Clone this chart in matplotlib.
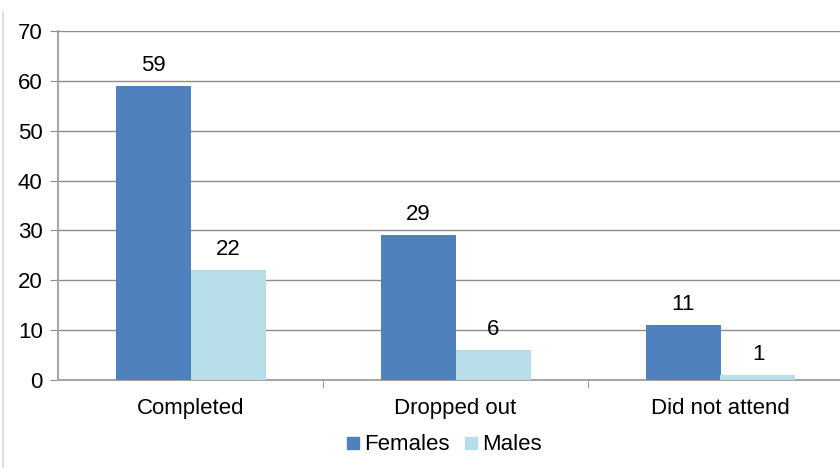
import matplotlib.pyplot as plt
import numpy as np
from matplotlib.lines import Line2D

plt.rcParams['font.family'] = ['Liberation Sans', 'DejaVu Sans']

categories = ["Completed", "Dropped out", "Did not attend"]
females = [59, 29, 11]
males = [22, 6, 1]

fig = plt.figure(figsize=(8.4, 4.68), dpi=100)
# axes run past the right edge, as in the reference crop
ax = fig.add_axes([58 / 840, 1 - 380 / 468, 795 / 840, 349 / 468])

x = np.arange(len(categories))
w = 75 / 265
ax.bar(x - w / 2, females, w, color="#4F81BD", label="Females", zorder=3)
ax.bar(x + w / 2, males, w, color="#B7DEE8", label="Males", zorder=3)

for xi, v in zip(x - w / 2, females):
    ax.text(xi, v + 2.0, str(v), ha="center", va="bottom", fontsize=16)
for xi, v in zip(x + w / 2, males):
    ax.text(xi, v + 2.0, str(v), ha="center", va="bottom", fontsize=16)

ax.set_xlim(-0.5, 2.5)
ax.set_ylim(0, 70)
ax.set_yticks(range(0, 71, 10))
ax.yaxis.grid(True, color="#8c8c8c", linewidth=1)
ax.set_axisbelow(True)

ax.set_xticks(x)
ax.set_xticklabels(categories, fontsize=16)
ax.set_xticks([0.5, 1.5, 2.5], minor=True)
ax.tick_params(axis="x", which="major", length=0, pad=13)
ax.tick_params(axis="x", which="minor", length=6, color="#8c8c8c", direction="out")
ax.tick_params(axis="y", length=6, color="#8c8c8c", labelsize=16, pad=5)

for s in ["top", "right"]:
    ax.spines[s].set_visible(False)
for s in ["left", "bottom"]:
    ax.spines[s].set_color("#a6a6a6")
    ax.spines[s].set_linewidth(1.5)

handles = [Line2D([], [], marker="s", linestyle="", markersize=8, color="#4F81BD"),
           Line2D([], [], marker="s", linestyle="", markersize=8, color="#B7DEE8")]
fig.legend(handles, ["Females", "Males"], loc="center", bbox_to_anchor=(443 / 840, 1 - 445 / 468),
           ncol=2, frameon=False, fontsize=16, handletextpad=0.1, columnspacing=0.6, handlelength=0.8)

# light border of the chart area on the left
fig.add_artist(Line2D([3 / 840, 3 / 840], [0.0, 1 - 12 / 468], color="#d9d9d9", linewidth=1.2))

fig.savefig("out.png", dpi=100)
